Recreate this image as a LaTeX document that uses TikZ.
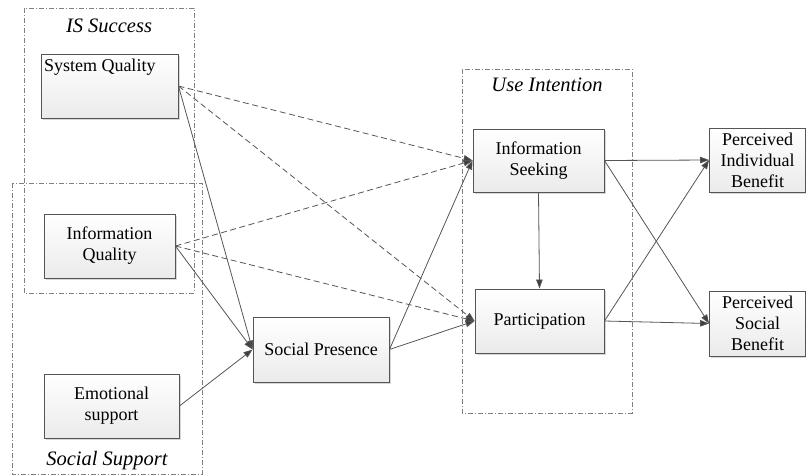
\documentclass[tikz,border=0pt]{standalone}
\usepackage{fontspec}
\setmainfont{Liberation Serif}
\usetikzlibrary{arrows.meta,shadows}
\definecolor{linec}{HTML}{555555}
\definecolor{tipc}{HTML}{404040}
\definecolor{groupc}{HTML}{808080}
\tikzset{
  box/.style={draw=linec, line width=0.9pt, top color=white, bottom color=gray!16,
    drop shadow={shadow xshift=1.6pt, shadow yshift=-1.6pt, fill=gray!45, opacity=0.7},
    align=center, inner sep=3pt, font=\fontsize{18}{21}\selectfont},
  group/.style={draw=groupc, line width=0.8pt, dash pattern=on 5pt off 2pt on 1pt off 2pt},
  grouplabel/.style={font=\fontsize{20.5}{24}\selectfont\itshape, anchor=base},
  link/.style={draw=linec, line width=0.8pt, -{Triangle[length=9pt,width=6.5pt,fill=tipc]}},
  dlink/.style={link, dash pattern=on 6pt off 3.5pt}
}
\begin{document}
\begin{tikzpicture}[x=1pt,y=-1pt]
\useasboundingbox (0,0) rectangle (806,475);
% groups
\draw[group] (24,8) rectangle (194,293);
\draw[group] (12,183) rectangle (202,474);
\draw[group] (462,69) rectangle (632,413);
\node[grouplabel] (lis) at (109,32) {IS Success};
\node[grouplabel] (lss) at (107,465) {Social Support};
\node[grouplabel] (lui) at (547,91) {Use Intention};
% boxes
\node[box, minimum width=137pt, minimum height=64pt, align=left] (sq) at (109.5,86)
  {\parbox[t][54pt][t]{131pt}{\raggedright System Quality}};
\node[box, minimum width=131pt, minimum height=64pt] (iq) at (109.5,246) {Information\\Quality};
\node[box, minimum width=135pt, minimum height=64pt] (es) at (111.5,406) {Emotional\\support};
\node[box, minimum width=136pt, minimum height=65pt] (sp) at (321,349.5) {Social Presence};
\node[box, minimum width=131pt, minimum height=63pt] (is) at (538.5,160.5) {Information\\Seeking};
\node[box, minimum width=129pt, minimum height=64pt] (pa) at (539.5,321) {Participation};
\node[box, minimum width=96pt, minimum height=64pt, inner sep=1pt] (pib) at (757.5,160) {Perceived\\Individual\\Benefit};
\node[box, minimum width=96pt, minimum height=65pt, inner sep=1pt] (psb) at (757.5,323.5) {Perceived\\Social\\Benefit};
% connectors
\draw[dlink] (sq.east) -- (is.west);
\draw[dlink] (sq.east) -- (pa.west);
\draw[link] (sq.east) -- (sp.west);
\draw[dlink] (iq.east) -- (is.west);
\draw[dlink] (iq.east) -- (pa.west);
\draw[link] (iq.east) -- (sp.west);
\draw[link] (es.east) -- (sp.west);
\draw[link] (sp.east) -- (is.west);
\draw[link] (sp.east) -- (pa.west);
\draw[link] (is.south) -- (pa.north);
\draw[link] (is.east) -- (pib.west);
\draw[link] (is.east) -- (psb.west);
\draw[link] (pa.east) -- (pib.west);
\draw[link] (pa.east) -- (psb.west);
\end{tikzpicture}
\end{document}
